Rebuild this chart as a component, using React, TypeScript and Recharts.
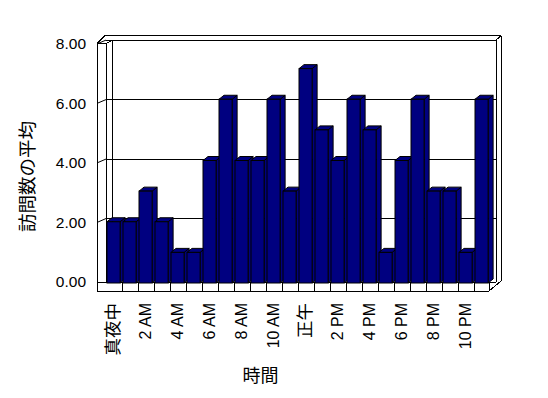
import React from 'react'
import { BarChart, Bar, XAxis, YAxis, CartesianGrid, ReferenceArea, Label } from 'recharts'

const hours = [
    '真夜中', '1 AM', '2 AM', '3 AM', '4 AM', '5 AM', '6 AM', '7 AM', '8 AM', '9 AM', '10 AM', '11 AM',
    '正午', '1 PM', '2 PM', '3 PM', '4 PM', '5 PM', '6 PM', '7 PM', '8 PM', '9 PM', '10 PM', '11 PM',
]
const visits = [2, 2, 3, 2, 1, 1, 4, 6, 4, 4, 6, 3, 7, 5, 4, 6, 5, 1, 4, 6, 3, 3, 1, 6]
const yTicks = [0, 2, 4, 6, 8]

const data = hours.map((hour, i) => ({ hour, visits: visits[i] }))

const FONT = '"Liberation Sans", Arial, "Noto Sans CJK JP", sans-serif'
const CJK = '"Noto Sans CJK JP", sans-serif'
const NAVY = '#000080'

// chart floor sits at this pixel row; back wall is pushed a little up/left (fake 3D)
const BOTTOM = 283
const toWall = (y: number) => BOTTOM - 5 - (BOTTOM - y) * 0.971
const toLabel = (y: number) => BOTTOM - 1 - (BOTTOM - y) * 0.972

const Bar3D = (props: any) => {
    const { x, y, width, height } = props
    if (!height) return null
    const fw = width * 0.82
    const dx = 5
    const dy = 4
    return (
        <g stroke="#000" strokeWidth={1} fill={NAVY}>
            <polygon points={`${x + fw},${y} ${x + fw + dx},${y - dy} ${x + fw + dx},${y + height - dy} ${x + fw},${y + height}`} />
            <polygon points={`${x},${y} ${x + dx},${y - dy} ${x + fw + dx},${y - dy} ${x + fw},${y}`} />
            <rect x={x} y={y} width={fw} height={height} />
        </g>
    )
}

const Frame = (props: any) => {
    const { x, y, width, height } = props
    const L = x
    const R = x + width
    const B = y + height
    const band = width / hours.length
    const backB = B - 1
    const frontB = B + 8
    const frontL = L - 10
    const frontR = R - 2
    const backT = toWall(y)
    const wallL = L + 5
    const wallR = R + 5
    const outT = backT - 4.5
    const slabT = backT + 3.5
    const lines: [number, number, number, number][] = [
        [frontL, slabT, frontL, frontB],
        [L - 1, slabT, L - 1, backB],
        [frontL, slabT, L - 1, slabT],
        [frontL, slabT, frontL + 8, outT],
        [frontL + 8, outT, wallR + 5, outT],
        [L - 1, slabT, wallL, backT],
        [wallL, backT, wallR, backT],
        [wallR, backT, wallR, backB],
        [wallR, backT, wallR + 5, outT],
        [wallR + 5, outT, wallR + 5, backB - 1],
        [frontL, backB, wallR, backB],
        [frontL, frontB, frontR, frontB],
        [frontR, backB, frontR, frontB],
        [frontR, frontB, wallR + 5, backB - 1],
    ]
    for (let i = 1; i < hours.length; i++) {
        const dxp = L + i * band - 1
        lines.push([dxp, backB, dxp, frontB])
    }
    return (
        <g stroke="#000" strokeWidth={1} fill="none" shapeRendering="crispEdges">
            {lines.map((l, i) => (
                <line key={i} x1={l[0]} y1={l[1]} x2={l[2]} y2={l[3]} />
            ))}
        </g>
    )
}

const GridLine = (p: any) => {
    if (p.y1 >= BOTTOM - 2) return <g key={p.key} />
    const gy = toWall(p.y1)
    return <line key={p.key} x1={p.x1 - 1} x2={p.x2 + 5} y1={gy} y2={gy} stroke="#000" strokeWidth={1} shapeRendering="crispEdges" />
}

// left edge of the back wall, kept in the grid layer so the bars hide it
const WallEdge = (p: any) => (
    <line key={p.key} x1={p.x1} x2={p.x2} y1={toWall(p.y1)} y2={p.y2 - 1} stroke="#000" strokeWidth={1} shapeRendering="crispEdges" />
)

const YTick = (props: any) => {
    const { y, payload } = props
    const ly = toLabel(y)
    return (
        <g>
            {payload.value > 0 && <line x1={97} y1={ly} x2={106} y2={toWall(y)} stroke="#000" />}
            <text x={86} y={ly} dy="0.35em" textAnchor="end" fontFamily={FONT} fontSize={15.5} fill="#000" stroke="none">
                {Number(payload.value).toFixed(2)}
            </text>
        </g>
    )
}

const XTick = (props: any) => {
    const { x, payload } = props
    const cjk = /[^\x00-\x7f]/.test(payload.value)
    const cx = x - 2
    return (
        <text
            x={cx}
            y={303}
            dy="0.35em"
            textAnchor="end"
            transform={`rotate(-90, ${cx}, 303)`}
            fontFamily={cjk ? CJK : FONT}
            fontSize={cjk ? 17.5 : 16}
            fill="#000"
            stroke="none"
        >
            {payload.value}
        </text>
    )
}

const YTitle = (props: any) => {
    const { viewBox } = props
    const cy = viewBox.y + viewBox.height / 2 + 16
    return (
        <text x={28} y={cy} dy="0.35em" textAnchor="middle" transform={`rotate(-90, 28, ${cy})`} fontFamily={CJK} fontSize={18.5} fill="#000">
            訪問数の平均
        </text>
    )
}

const XTitle = (props: any) => {
    const { viewBox } = props
    const cx = viewBox.x + viewBox.width * 0.4
    return (
        <text x={cx} y={376} dy="0.35em" textAnchor="middle" fontFamily={CJK} fontSize={18} fill="#000">
            時間
        </text>
    )
}

const App = () => {
    return (
        <div style={{ position: 'absolute', left: 0, top: 0, width: 548, height: 398, background: '#fff' }}>
            <BarChart
                width={548}
                height={398}
                data={data}
                margin={{ top: 38, right: 57, bottom: 0, left: 0 }}
                barCategoryGap={0}
            >
                <CartesianGrid
                    horizontal={GridLine}
                    vertical={WallEdge}
                    verticalCoordinatesGenerator={({ offset }: any) => [offset.left + 5]}
                />
                <ReferenceArea y1={0} y2={8} shape={Frame} />
                <XAxis dataKey="hour" interval={1} axisLine={false} tickLine={false} height={115} tick={XTick}>
                    <Label content={XTitle} />
                </XAxis>
                <YAxis domain={[0, 8]} ticks={yTicks} width={107} axisLine={false} tickLine={false} tick={YTick}>
                    <Label content={YTitle} />
                </YAxis>
                <Bar dataKey="visits" shape={Bar3D} isAnimationActive={false} />
            </BarChart>
        </div>
    )
}

export default App
